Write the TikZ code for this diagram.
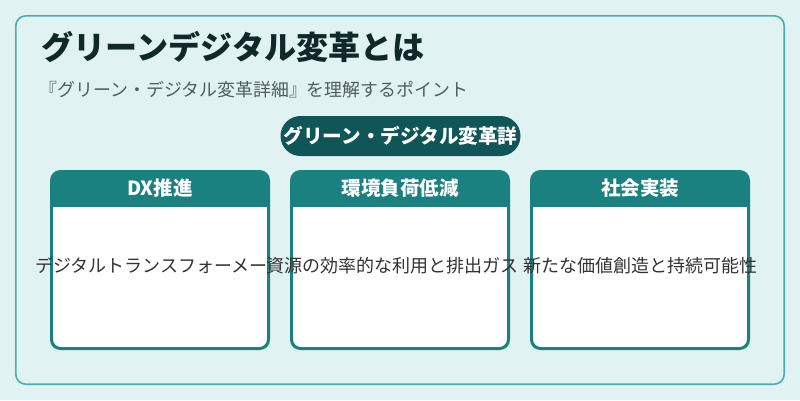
\documentclass[tikz,border=0pt]{standalone}
\usepackage{fontspec}
\setmainfont{Noto Sans CJK JP}
\definecolor{bgc}{HTML}{E0F3F2}
\definecolor{panelline}{HTML}{4AADAD}
\definecolor{hdr}{HTML}{1A8080}
\definecolor{pillc}{HTML}{115656}
\definecolor{titlec}{HTML}{102828}
\definecolor{subc}{HTML}{4F5D5D}
\definecolor{bodyc}{HTML}{333333}
\begin{document}
\begin{tikzpicture}[x=1pt,y=-1pt,
  card/.style={draw=hdr, line width=3pt, fill=white, rounded corners=9pt,
    minimum width=217pt, minimum height=177pt, inner sep=0pt,
    path picture={\fill[hdr, sharp corners] ([xshift=-3pt,yshift=3pt]path picture bounding box.north west) rectangle ([xshift=3pt,yshift=-35.5pt]path picture bounding box.north east);}},
  hdrtext/.style={text=white, font=\bfseries\fontsize{19.5}{22}\selectfont, inner sep=0pt},
  bodytext/.style={text=bodyc, font=\fontsize{18}{22}\selectfont, inner sep=0pt},
  pill/.style={fill=pillc, rounded corners=20pt, minimum width=240pt, minimum height=40pt, inner sep=0pt,
    text=white, font=\bfseries\fontsize{19.6}{22}\selectfont}]
\useasboundingbox (0,0) rectangle (800,400);
\fill[bgc] (0,0) rectangle (800,400);
\draw[panelline, line width=1.6pt, rounded corners=10pt] (15.8,15.8) rectangle (784.2,384.2);
\node[anchor=west, inner sep=0pt, text=titlec, font=\bfseries\fontsize{32.1}{36}\selectfont] (title) at (41.5,47.5) {グリーンデジタル変革とは};
\node[anchor=west, inner sep=0pt, text=subc, font=\fontsize{17.9}{22}\selectfont] (sub) at (39.5,89.5) {『グリーン・デジタル変革詳細』を理解するポイント};
\node[pill] (pl) at (400.5,136) {グリーン・デジタル変革詳};
\node[card] (c1) at (160,260) {};
\node[hdrtext] (h1) at (160,188.5) {DX推進};
\node[bodytext] (b1) at (151.5,265.5) {デジタルトランスフォーメー};
\node[card] (c2) at (400,260) {};
\node[hdrtext] (h2) at (400,188.5) {環境負荷低減};
\node[bodytext] (b2) at (392,265.5) {資源の効率的な利用と排出ガス};
\node[card] (c3) at (640,260) {};
\node[hdrtext] (h3) at (640,188.5) {社会実装};
\node[bodytext] (b3) at (640,265.5) {新たな価値創造と持続可能性};
\end{tikzpicture}
\end{document}
